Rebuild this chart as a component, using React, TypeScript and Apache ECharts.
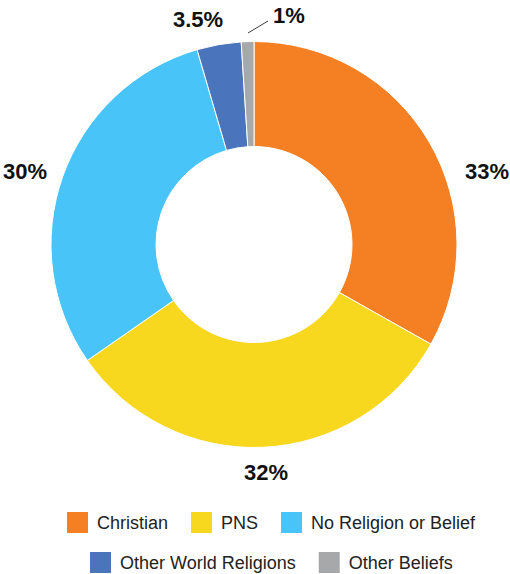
import React, { useEffect, useRef } from "react";
import * as echarts from "echarts";

const categories = ["Christian", "PNS", "No Religion or Belief", "Other World Religions", "Other Beliefs"];
const values = [33, 32, 30, 3.5, 1];
const labels = ["33%", "32%", "30%", "3.5%", "1%"];
const colors = ["#F58023", "#F8D71F", "#48C4F8", "#4A74BC", "#A7A8AA"];
const labelPos: number[][] = [[487, 171], [266, 472], [25, 171], [198, 19], [289, 15]];
const legendRow1 = categories.slice(0, 3);
const legendRow2 = categories.slice(3);

export default function App() {
  const ref = useRef<HTMLDivElement>(null);
  useEffect(() => {
    document.body.style.margin = "0";
    const chart = echarts.init(ref.current!, null, { renderer: "svg" });
    const legendText = {
      fontSize: 18,
      color: "#222",
      fontFamily: "Liberation Sans, Arial, sans-serif",
      padding: [0, 0, 0, 4],
    };
    const legendBase = {
      icon: "rect",
      itemWidth: 21,
      itemHeight: 21,
      itemGap: 23,
      padding: 0,
      itemStyle: { borderWidth: 0 },
      textStyle: legendText,
      selectedMode: false,
    };
    chart.setOption({
      animation: false,
      backgroundColor: "#fff",
      color: colors,
      legend: [
        { ...legendBase, data: legendRow1, left: 67, top: 512 },
        { ...legendBase, data: legendRow2, left: 90, top: 552 },
      ],
      series: [
        {
          type: "pie",
          center: [254, 244.5],
          radius: [98, 203],
          startAngle: 90,
          clockwise: true,
          avoidLabelOverlap: false,
          itemStyle: { borderColor: "#fff", borderWidth: 1 },
          label: {
            show: true,
            position: "outside",
            fontSize: 22,
            fontWeight: "bold",
            color: "#111",
            fontFamily: "Liberation Sans, Arial, sans-serif",
            formatter: (p: any) => labels[p.dataIndex],
          },
          labelLine: { show: false },
          labelLayout: (params: any) => {
            const i = params.dataIndex;
            const p = labelPos[i];
            const res: any = { x: p[0], y: p[1], align: "center", verticalAlign: "middle" };
            if (i === 4) {
              res.labelLinePoints = [[248, 33], [258, 27], [268, 21]];
            }
            return res;
          },
          emphasis: { disabled: true },
          data: categories.map((name, i) => ({
            name,
            value: values[i],
            labelLine: i === 4 ? { show: true, lineStyle: { color: "#404040", width: 1 } } : { show: false },
          })),
        },
      ],
    });
    return () => chart.dispose();
  }, []);
  return <div ref={ref} style={{ width: 510, height: 574 }} />;
}
